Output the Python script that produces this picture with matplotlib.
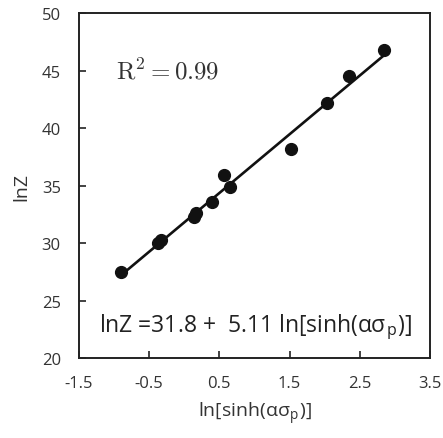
import matplotlib.pyplot as plt

plt.rcParams['font.family'] = ['Open Sans', 'DejaVu Sans']
plt.rcParams['mathtext.fontset'] = 'cm'

# datos
ln_sinh = [-0.90, -0.38, -0.33, 0.14, 0.17, 0.39, 0.57, 0.65, 1.52, 2.03, 2.35, 2.84]
ln_z = [27.5, 30.0, 30.3, 32.3, 32.6, 33.6, 35.9, 34.9, 38.2, 42.2, 44.5, 46.8]

# ajuste lineal reportado
intercepto = 31.8
pendiente = 5.11

fig = plt.figure(figsize=(4.43, 4.39), dpi=100)
ax = fig.add_axes([0.178, 0.182, 0.793, 0.786])

x_fit = [min(ln_sinh), max(ln_sinh)]
y_fit = [intercepto + pendiente * v for v in x_fit]
ax.plot(x_fit, y_fit, color='#111111', linewidth=1.9, zorder=2)
ax.plot(ln_sinh, ln_z, 'o', color='#111111', markersize=8.5, zorder=3)

ax.set_xlim(-1.5, 3.5)
ax.set_ylim(20, 50)
ax.set_xticks([-1.5, -0.5, 0.5, 1.5, 2.5, 3.5])
ax.set_yticks(range(20, 51, 5))
ax.set_xticklabels(['-1.5', '-0.5', '0.5', '1.5', '2.5', '3.5'])

ax.tick_params(direction='in', length=5, width=1.2, colors='#222222',
               labelcolor='#333333', labelsize=12, pad=12)
ax.tick_params(axis='y', pad=13)
for s in ax.spines.values():
    s.set_linewidth(1.4)
    s.set_color('#222222')

ax.set_xlabel(r'ln[sinh(ασ$_\mathregular{p}$)]', fontsize=14, color='#333333', labelpad=6)
ax.set_ylabel('lnZ', fontsize=14, color='#333333', labelpad=8)

ax.text(0.105, 0.83, r'$\mathrm{R}^2 = 0.99$', transform=ax.transAxes,
        fontsize=18, color='#333333', va='center', ha='left')
ax.text(0.058, 0.094, r'lnZ =31.8 +  5.11 ln[sinh(ασ$_\mathregular{p}$)]', transform=ax.transAxes,
        fontsize=16.5, color='#222222', va='center', ha='left')

plt.savefig('out.png', dpi=100)
